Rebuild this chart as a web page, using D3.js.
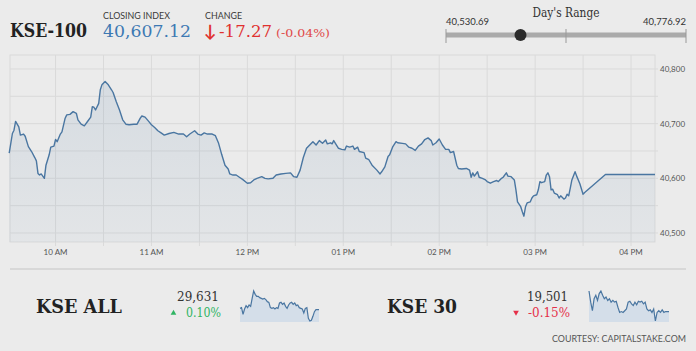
<!DOCTYPE html>
<html>
<head>
<meta charset="utf-8">
<script src="https://cdn.jsdelivr.net/npm/d3@7"></script>
<style>
body { margin: 0; background: #ebebeb; }
svg { display: block; }
</style>
</head>
<body>
<svg id="chart" width="696" height="351"></svg>
<script>
"use strict"

//
// Data
//
var kseTimes = [
	"09:31","09:33","09:34","09:35","09:37","09:38","09:40","09:41","09:43","09:45","09:47","09:48","09:49","09:50","09:51","09:53","09:54","09:56","09:57","09:59",
	"10:00","10:01","10:03","10:04","10:06","10:07","10:09","10:11","10:13","10:14","10:16","10:18","10:20","10:22","10:23","10:24","10:25","10:27","10:28","10:29",
	"10:31","10:33","10:35","10:36","10:38","10:40","10:42","10:44","10:46","10:49","10:51","10:53","10:54","10:56","10:58",
	"11:00","11:02","11:04","11:06","11:08","11:11","11:14","11:17","11:20","11:22","11:24","11:27","11:29","11:31","11:33","11:35","11:38","11:40","11:42","11:44",
	"11:46","11:48","11:49","11:51","11:53","11:55","11:57",
	"12:00","12:02","12:04","12:06","12:09","12:11","12:13","12:16","12:18","12:21","12:24","12:27","12:29","12:31","12:33","12:35","12:37","12:39","12:41","12:43",
	"12:45","12:47","12:49","12:50","12:52","12:53","12:54","12:57","12:59",
	"13:01","13:02","13:04","13:06","13:07","13:09","13:10","13:13","13:14","13:16","13:18","13:21","13:23","13:24","13:26","13:28","13:29","13:31","13:33","13:34",
	"13:37","13:39","13:41","13:43","13:45","13:47","13:49","13:51","13:53","13:55","13:56","13:58",
	"14:00","14:02","14:04","14:06","14:07","14:09","14:11","14:12","14:14","14:17","14:19","14:20","14:21","14:22","14:24","14:25","14:27","14:29","14:30","14:32",
	"14:34","14:36","14:37","14:39","14:40","14:42","14:43","14:45","14:47","14:48","14:49","14:51","14:52","14:53","14:54","14:55","14:57","14:58","14:59",
	"15:01","15:02","15:03","15:04","15:06","15:07","15:08","15:09","15:10","15:11","15:12","15:14","15:15","15:16","15:18","15:19","15:20","15:21","15:22","15:23",
	"15:25","15:26","15:28","15:30","15:31","15:44","16:15"
];
var kseValues = [
	40646,40682,40688,40704,40694,40679,40681,40677,40658,40649,40638,40632,40609,40606,40608,40600,40624,40643,40657,40659,
	40671,40667,40681,40685,40710,40716,40717,40722,40719,40707,40699,40696,40704,40712,40731,40730,40725,40737,40762,40771,
	40776.92,40771,40762,40757,40740,40725,40707,40699,40698,40699,40699,40710,40714,40712,40705,
	40698,40693,40687,40683,40679,40682,40684,40681,40681,40676,40681,40687,40681,40679,40683,40681,40681,40678,40664,40643,
	40624,40617,40608,40606,40606,40602,40598,
	40591,40592,40597,40600,40603,40600,40599,40600,40606,40608,40609,40610,40603,40602,40615,40638,40655,40661,40667,40661,
	40669,40664,40670,40663,40665,40663,40669,40655,40653,
	40652,40659,40657,40659,40653,40657,40649,40647,40637,40634,40624,40615,40608,40612,40621,40640,40643,40658,40667,40665,
	40664,40663,40657,40655,40651,40659,40663,40671,40674,40669,40661,40665,
	40672,40661,40653,40653,40647,40649,40624,40618,40617,40618,40615,40602,40610,40604,40612,40602,40600,40597,40594,40591,
	40594,40596,40594,40600,40602,40610,40604,40603,40597,40579,40557,40548,40539,40530.69,40548,40555,40557,40564,40568,
	40570,40579,40594,40592,40594,40606,40610,40603,40579,40580,40573,40570,40564,40568,40562,40564,40571,40568,40582,40597,
	40612,40604,40590,40571,40574,40607.12,40607.12
];
var yTickValues = [40500, 40600, 40700, 40800];

var kseAllValues = [
	29633,29634,29624,29632,29637,29634,29638,29636,29648,29659,29654,29651,29651,29649,29648,29647,29648,29646,29643,29642,
	29634,29633,29634,29632,29634,29633,29641,29642,29639,29641,29636,29633,29638,29641,29642,29639,29641,29637,29638,29634,
	29633,29632,29626,29633,29634,29618,29614,29615,29621,29628,29631,29631,29631
];
var kse30Values = [
	19525,19512,19502,19516,19520,19514,19522,19525,19520,19516,19518,19514,19516,19512,19514,19512,19513,19506,19500,19501,
	19500,19502,19504,19512,19513,19510,19508,19512,19509,19513,19512,19513,19510,19512,19504,19502,19503,19500,19504,19490,
	19500,19502,19500,19503,19500,19501,19501,19501
];

var closingIndex = 40607.12;
var changeValue = "-17.27";
var changePct = "(-0.04%)";
var dayLow = 40530.69;
var dayHigh = 40776.92;

//
// Setup
//
var parseTime = d3.timeParse("%H:%M");
var serif = "'DejaVu Serif', serif";
var sans = "Lato, 'Open Sans', sans-serif";
var lineColor = "#4a76a1";
var gridColor = "#dadada";

var svg = d3.select("#chart");
svg.append("rect")
	.attr("width", 696)
	.attr("height", 351)
	.attr("fill", "#ebebeb")
	;

var defs = svg.append("defs");
var grad = defs.append("linearGradient")
	.attr("id", "areaGrad")
	.attr("x1", 0).attr("y1", 0).attr("x2", 0).attr("y2", 1)
	;
grad.append("stop").attr("offset", "0%").attr("stop-color", lineColor).attr("stop-opacity", 0.13);
grad.append("stop").attr("offset", "100%").attr("stop-color", lineColor).attr("stop-opacity", 0.05);

//
// Header
//
function addText(sText, x, y, size, font, fill, anchor, weight, len) {
	var t = svg.append("text")
		.attr("x", x)
		.attr("y", y)
		.attr("font-family", font)
		.attr("font-size", size)
		.attr("font-weight", weight || "normal")
		.attr("fill", fill)
		.attr("text-anchor", anchor || "start")
		.text(sText)
		;
	if (len != null)
		t.attr("textLength", len).attr("lengthAdjust", "spacingAndGlyphs");
	return t;
}

addText("KSE-100", 10, 37, 19, serif, "#222", "start", "bold", 77);
addText("CLOSING INDEX", 103, 18.5, 8.5, sans, "#3a3a3a", "start", "normal", 67);
addText(d3.format(",.2f")(closingIndex), 103, 37, 17.5, serif, "#3d79b3", "start", "normal", 88);
addText("CHANGE", 205, 18.5, 8.5, sans, "#3a3a3a", "start", "normal", 37);
addText("\u2193", 204, 37, 17, sans, "#e0312f", "start", "bold");
addText(changeValue, 219, 37, 17.5, serif, "#e0312f", "start", "normal", 53);
addText(changePct, 276, 37, 10.5, serif, "#e04848", "start", "normal", 54);

// Day's range
var xRange = d3.scaleLinear().domain([dayLow, dayHigh]).range([446, 686]);
addText("Day's Range", 566, 17, 12.5, serif, "#333", "middle", "normal", 67);
addText(d3.format(",.2f")(dayLow), 446, 25, 9, sans, "#333", "start", "normal", 43);
addText(d3.format(",.2f")(dayHigh), 686, 25, 9, sans, "#333", "end", "normal", 43);
svg.append("line")
	.attr("x1", xRange(dayLow)).attr("x2", xRange(dayHigh))
	.attr("y1", 35).attr("y2", 35)
	.attr("stroke", "#aaaaaa")
	.attr("stroke-width", 5)
	;
[dayLow, (dayLow + dayHigh) / 2, dayHigh].forEach(function(v) {
	svg.append("line")
		.attr("x1", xRange(v)).attr("x2", xRange(v))
		.attr("y1", 29).attr("y2", 43)
		.attr("stroke", "#999")
		.attr("stroke-width", 1)
		;
});
svg.append("circle")
	.attr("cx", xRange(closingIndex))
	.attr("cy", 35)
	.attr("r", 6)
	.attr("fill", "#2b2b2b")
	;

//
// Main chart
//
var plotLeft = 10, plotRight = 655, plotTop = 55, plotBottom = 242;
var t0 = parseTime("09:31");
var x = d3.scaleTime()
	.domain([new Date(t0.getTime() + 30000), parseTime("16:15")])
	.range([plotLeft, plotRight])
	;
var y = d3.scaleLinear()
	.domain([40483.5, 40825.6])
	.range([plotBottom, plotTop])
	;

var data = kseTimes.map(function(t, i) { return { t: parseTime(t), v: kseValues[i] }; });

var grid = svg.append("g");
grid.append("rect")
	.attr("x", plotLeft).attr("y", plotTop)
	.attr("width", plotRight - plotLeft).attr("height", plotBottom - plotTop)
	.attr("fill", "none")
	.attr("stroke", gridColor)
	;
d3.range(40500, 40801, 50).forEach(function(v) {
	grid.append("line")
		.attr("x1", plotLeft).attr("x2", plotRight + 3)
		.attr("y1", y(v)).attr("y2", y(v))
		.attr("stroke", gridColor)
		;
});
x.ticks(d3.timeMinute.every(30)).forEach(function(t) {
	grid.append("line")
		.attr("x1", x(t)).attr("x2", x(t))
		.attr("y1", plotTop).attr("y2", plotBottom + 4)
		.attr("stroke", gridColor)
		;
});

svg.append("path")
	.datum(data)
	.attr("fill", "url(#areaGrad)")
	.attr("d", d3.area()
		.x(function(d) { return x(d.t); })
		.y0(plotBottom)
		.y1(function(d) { return y(d.v); }))
	;
svg.append("path")
	.datum(data)
	.attr("fill", "none")
	.attr("stroke", lineColor)
	.attr("stroke-width", 1.4)
	.attr("stroke-linejoin", "round")
	.attr("d", d3.line()
		.x(function(d) { return x(d.t); })
		.y(function(d) { return y(d.v); }))
	;

// axes labels
var fmtHour = d3.timeFormat("%I %p");
x.ticks(d3.timeHour.every(1)).forEach(function(t) {
	addText(fmtHour(t), x(t), 255, 8, sans, "#555", "middle");
});
yTickValues.forEach(function(v) {
	addText(d3.format(",")(v), 660, y(v) + 3, 8, sans, "#555", "start");
});

svg.append("line")
	.attr("x1", 10).attr("x2", 686)
	.attr("y1", 269).attr("y2", 269)
	.attr("stroke", "#d2d2d2")
	.attr("stroke-width", 1.5)
	;

//
// Bottom tickers
//
function sparkline(values, x0, x1, y0, y1) {
	var sx = d3.scaleLinear().domain([0, values.length - 1]).range([x0, x1]);
	var sy = d3.scaleLinear().domain(d3.extent(values)).range([y1 - 1, y0]);
	svg.append("path")
		.datum(values)
		.attr("fill", "#d4dee9")
		.attr("d", d3.area()
			.x(function(d, i) { return sx(i); })
			.y0(y1)
			.y1(function(d) { return sy(d); }))
		;
	svg.append("path")
		.datum(values)
		.attr("fill", "none")
		.attr("stroke", lineColor)
		.attr("stroke-width", 1.2)
		.attr("d", d3.line()
			.x(function(d, i) { return sx(i); })
			.y(function(d) { return sy(d); }))
		;
}

addText("KSE ALL", 36, 313, 19, serif, "#222", "start", "bold", 86);
addText("29,631", 219, 301, 13, serif, "#333", "end", "normal", 42);
svg.append("path")
	.attr("d", d3.symbol().type(d3.symbolTriangle).size(14)())
	.attr("transform", "translate(173.5,313)")
	.attr("fill", "#2fb463")
	;
addText("0.10%", 221, 317, 12, serif, "#2fb463", "end", "normal", 35);
sparkline(kseAllValues, 240, 319, 291, 322);

addText("KSE 30", 387, 313, 19, serif, "#222", "start", "bold", 70);
addText("19,501", 568, 301, 13, serif, "#333", "end", "normal", 41);
svg.append("path")
	.attr("d", d3.symbol().type(d3.symbolTriangle).size(14)())
	.attr("transform", "translate(516,312.5) rotate(180)")
	.attr("fill", "#e5304a")
	;
addText("-0.15%", 570, 317, 12, serif, "#e5304a", "end", "normal", 42);
sparkline(kse30Values, 589, 669, 291, 322);

addText("COURTESY: CAPITALSTAKE.COM", 686, 342, 8.5, sans, "#555", "end", "normal", 134);
</script>
</body>
</html>
